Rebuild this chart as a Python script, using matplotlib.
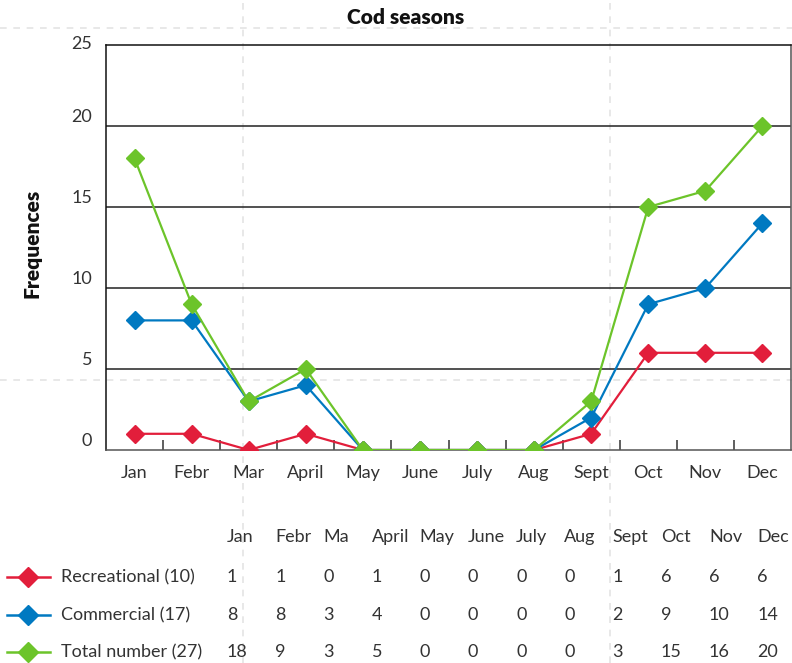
import matplotlib
matplotlib.use('Agg')
import matplotlib.pyplot as plt
from matplotlib.lines import Line2D
from matplotlib.transforms import ScaledTranslation

# data
months = ['Jan', 'Febr', 'Mar', 'April', 'May', 'June', 'July', 'Aug', 'Sept', 'Oct', 'Nov', 'Dec']
table_months = ['Jan', 'Febr', 'Ma', 'April', 'May', 'June', 'July', 'Aug', 'Sept', 'Oct', 'Nov', 'Dec']
recreational = [1, 1, 0, 1, 0, 0, 0, 0, 1, 6, 6, 6]
commercial = [8, 8, 3, 4, 0, 0, 0, 0, 2, 9, 10, 14]
total = [18, 9, 3, 5, 0, 0, 0, 0, 3, 15, 16, 20]
series_names = ['Recreational (10)', 'Commercial (17)', 'Total number (27)']
yticks = [0, 5, 10, 15, 20, 25]

colors = ['#e21e3b', '#0079c1', '#6cc42a']
txt = '#333333'
fs = 13

plt.rcParams['font.family'] = ['Lato', 'DejaVu Sans']

W, H = 792, 663
fig = plt.figure(figsize=(W / 100, H / 100), dpi=100)

# light dashed guide lines from the page layout
guide = dict(color='#e4e4e4', lw=1.2, ls=(0, (4, 4)), zorder=0)
fig.add_artist(Line2D([0, 1], [1 - 28 / H, 1 - 28 / H], transform=fig.transFigure, **guide))
fig.add_artist(Line2D([0, 1], [1 - 380 / H, 1 - 380 / H], transform=fig.transFigure, **guide))
fig.add_artist(Line2D([243 / W, 243 / W], [0, 1], transform=fig.transFigure, **guide))
fig.add_artist(Line2D([610 / W, 610 / W], [0, 1], transform=fig.transFigure, **guide))

ax = fig.add_axes([106 / W, 1 - 450 / H, 685 / W, 405 / H])
ax.set_facecolor('none')
x = list(range(len(months)))
for vals, c in zip([recreational, commercial, total], colors):
    ax.plot(x, vals, color=c, lw=1.6, marker='D', markersize=9.5, zorder=3)

ax.set_xlim(-0.5, 11.5)
ax.set_ylim(0, 25)
ax.set_yticks(yticks)
ax.set_yticklabels([str(v) for v in yticks])
for v in yticks[1:-1]:
    ax.axhline(v, color='#222222', lw=1.1, zorder=1)

ax.set_xticks(x)
ax.set_xticklabels(months)
ax.set_xticks([i + 0.5 for i in range(11)], minor=True)
ax.tick_params(axis='x', which='major', length=0, pad=11, labelsize=fs, labelcolor=txt)
ax.tick_params(axis='x', which='minor', direction='in', length=7, width=1.1, color='#333333')
ax.tick_params(axis='y', length=0, pad=10, labelsize=fs, labelcolor=txt)

# y labels sit a bit above their lines
for lab, v in zip(ax.get_yticklabels(), yticks):
    dy = 1 / 72 * (1.5 if v == 25 else 7.5)
    lab.set_transform(lab.get_transform() + ScaledTranslation(0, dy, fig.dpi_scale_trans))

for s in ['left', 'top']:
    ax.spines[s].set_color('#111111')
for s in ['right', 'bottom']:
    ax.spines[s].set_color('#555555')
for s in ax.spines.values():
    s.set_linewidth(1.1)

fig.text(406 / W, 1 - 17 / H, 'Cod seasons', ha='center', va='center',
         fontsize=15, fontweight='heavy', color='#111111')
fig.text(32 / W, 1 - 243 / H, 'Frequences', ha='center', va='center', rotation=90,
         fontsize=15, fontweight='heavy', color='#111111')

# data table below the chart
col_x = [227 + 48.2 * i for i in range(12)]
for cx, m in zip(col_x, table_months):
    fig.text(cx / W, 1 - 537 / H, m, ha='left', va='center', fontsize=fs, color=txt)

row_y = [577, 615, 652]
for ry, name, vals, c in zip(row_y, series_names, [recreational, commercial, total], colors):
    yf = 1 - ry / H
    fig.add_artist(Line2D([7 / W, 50 / W], [yf, yf], transform=fig.transFigure, color=c, lw=1.8))
    fig.add_artist(Line2D([28 / W], [yf], transform=fig.transFigure, color=c, marker='D',
                          markersize=10, lw=0))
    fig.text(61 / W, yf, name, ha='left', va='center', fontsize=fs, color=txt)
    for cx, v in zip(col_x, vals):
        fig.text(cx / W, yf, str(v), ha='left', va='center', fontsize=fs, color=txt)

fig.savefig('out.png', dpi=100)
